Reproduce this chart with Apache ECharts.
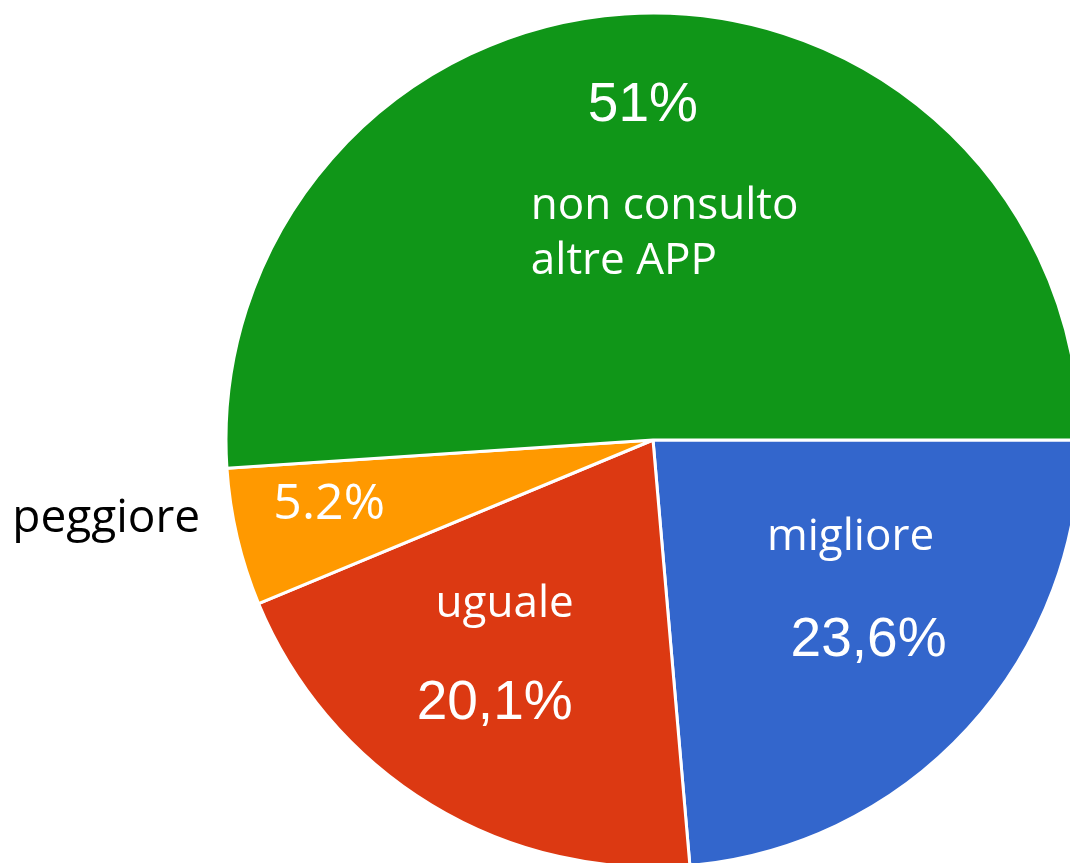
<!DOCTYPE html>
<html>
<head>
<meta charset="utf-8">
<script src="https://cdn.jsdelivr.net/npm/echarts@6/dist/echarts.min.js"></script>
<style>
html,body{margin:0;padding:0;background:#fff;}
#chart{width:1070px;height:863px;}
</style>
</head>
<body>
<div id="chart"></div>
<script>
// ---- data ----
const categories = ['migliore', 'uguale', 'peggiore', 'non consulto\naltre APP'];
const values = [23.6, 20.1, 5.2, 51];
const percentLabels = ['23,6%', '20,1%', '5.2%', '51%'];
const colors = ['#3366cc', '#dc3912', '#ff9900', '#109618'];

// label offsets relative to the library's default inside position
const insideOffsets = [[47, 3], [-41, 29], [-113, 15], [-115, -63]];
const outsideOffsets = [[0, 0], [0, 0], [-336, 30], [0, 0]];

const nameFont = '"Open Sans", "Noto Sans", sans-serif';
const pctFont = '"Liberation Sans", Arial, sans-serif';

const chart = echarts.init(document.getElementById('chart'), null, {renderer: 'canvas'});

const mainData = categories.map((c, i) => ({ value: values[i], name: c }));
const outerData = categories.map((c, i) => ({ value: values[i], name: c, label: { show: i === 2 } }));

chart.setOption({
  animation: false,
  backgroundColor: '#ffffff',
  color: colors,
  series: [
    {
      type: 'pie',
      center: [653, 440],
      radius: 427,
      startAngle: 0,
      clockwise: true,
      silent: true,
      itemStyle: { borderColor: '#ffffff', borderWidth: 3 },
      label: {
        show: true,
        position: 'inside',
        color: '#ffffff',
        formatter: function (p) {
          const i = p.dataIndex;
          if (i === 0) return '{n0|' + categories[0] + '}\n{p0|' + percentLabels[0] + '}';
          if (i === 1) return '{n1|' + categories[1] + '}\n{p1|' + percentLabels[1] + '}';
          if (i === 2) return '{q|' + percentLabels[2] + '}';
          const lines = categories[3].split('\n');
          return '{g|' + percentLabels[3] + '}\n' + lines.map(l => '{t|' + l + '}').join('\n');
        },
        rich: {
          n0: { fontFamily: nameFont, fontWeight: 400, fontSize: 44, color: '#fff', lineHeight: 104, padding: [0, 18, 0, 0] },
          p0: { fontFamily: pctFont, fontSize: 55, color: '#fff', lineHeight: 104, padding: [0, 0, 0, 18] },
          n1: { fontFamily: nameFont, fontWeight: 400, fontSize: 44, color: '#fff', lineHeight: 99, padding: [0, 0, 0, 10] },
          p1: { fontFamily: pctFont, fontSize: 55, color: '#fff', lineHeight: 99, padding: [0, 10, 0, 0] },
          q: { fontFamily: nameFont, fontWeight: 400, fontSize: 50, color: '#fff' },
          g: { fontFamily: pctFont, fontSize: 55, color: '#fff', lineHeight: 147, align: 'left', padding: [0, 0, 0, 57] },
          t: { fontFamily: nameFont, fontWeight: 400, fontSize: 44, color: '#fff', lineHeight: 55, align: 'left' }
        }
      },
      labelLine: { show: false },
      labelLayout: function (p) {
        const o = insideOffsets[p.dataIndex];
        const r = { dx: o[0], dy: o[1] };
        if (p.dataIndex === 3) { r.align = 'left'; }
        return r;
      },
      data: mainData
    },
    {
      type: 'pie',
      center: [653, 440],
      radius: 427,
      startAngle: 0,
      clockwise: true,
      silent: true,
      itemStyle: { color: 'rgba(0,0,0,0)', borderWidth: 0 },
      label: {
        position: 'inside',
        color: '#000000',
        fontFamily: nameFont,
        fontWeight: 400,
        fontSize: 46,
        formatter: function (p) { return categories[p.dataIndex]; }
      },
      labelLine: { show: false },
      labelLayout: function (p) {
        const o = outsideOffsets[p.dataIndex];
        return { dx: o[0], dy: o[1] };
      },
      data: outerData
    }
  ]
});
</script>
</body>
</html>
